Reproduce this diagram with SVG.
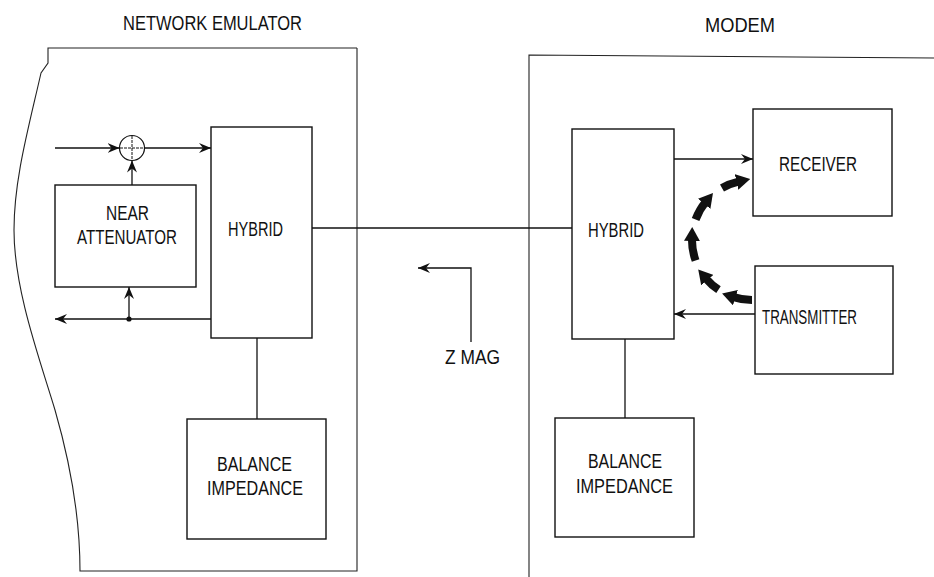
<svg xmlns="http://www.w3.org/2000/svg" width="934" height="577" viewBox="0 0 934 577">
<style>
.box{fill:#fff;stroke:#111;stroke-width:1.4}
.frame{fill:none;stroke:#222;stroke-width:1.1}
.ln{fill:none;stroke:#111;stroke-width:1.3}
.fat{fill:none;stroke:#111;stroke-width:8}
.t{font-family:"Liberation Sans",Arial,sans-serif;font-size:20.5px;fill:#111;text-anchor:middle}
</style>
<defs>
<marker id="ah" viewBox="0 0 12 10" refX="12" refY="5" markerWidth="12" markerHeight="10" markerUnits="userSpaceOnUse" orient="auto">
<path d="M0,0 L12,5 L0,10 L4,5 Z" fill="#111"/>
</marker>
<marker id="fh" viewBox="0 0 14 16" refX="2" refY="8" markerWidth="14" markerHeight="16" markerUnits="userSpaceOnUse" orient="auto">
<path d="M0,0 L14,8 L0,16 Z" fill="#111"/>
</marker>
</defs>
<g id="titles">
<text class="t" x="212.5" y="30" textLength="179" lengthAdjust="spacingAndGlyphs">NETWORK  EMULATOR</text>
<text class="t" x="740" y="32" textLength="70" lengthAdjust="spacingAndGlyphs">MODEM</text>
</g>
<g id="frames">
<path class="frame" d="M357,48 L48,48 L48,63 L41,73 C28,130 14,180 14,230 C14,290 40,360 55,410 C68,455 80,510 80,571 L357,571 L357,48"/>
<path class="frame" d="M529,577 L529,55 L934,58"/>
</g>
<g id="connectors">
<line class="ln" x1="55" y1="148" x2="119.5" y2="148" marker-end="url(#ah)"/>
<line class="ln" x1="144.5" y1="148" x2="211" y2="148" marker-end="url(#ah)"/>
<line class="ln" x1="132" y1="185" x2="132" y2="160.5" marker-end="url(#ah)"/>
<line class="ln" x1="211" y1="319" x2="55" y2="319" marker-end="url(#ah)"/>
<line class="ln" x1="129" y1="319" x2="129" y2="287" marker-end="url(#ah)"/>
<circle cx="129" cy="319" r="2.6" fill="#111"/>
<line class="ln" x1="312" y1="228" x2="572" y2="228"/>
<line class="ln" x1="257" y1="338" x2="257" y2="419"/>
<line class="ln" x1="625" y1="339" x2="625" y2="418"/>
<line class="ln" x1="674" y1="159" x2="753" y2="159" marker-end="url(#ah)"/>
<line class="ln" x1="755" y1="314" x2="674" y2="314" marker-end="url(#ah)"/>
<path class="ln" d="M471,342 L471,268 L418,268" marker-end="url(#ah)"/>
<text class="t" x="472.5" y="364" textLength="55" lengthAdjust="spacingAndGlyphs">Z MAG</text>
<path class="fat" d="M752,300 A60,60 0 0 1 733.5,297.1" marker-end="url(#fh)"/>
<path class="fat" d="M718.5,289.7 A60,60 0 0 1 706,278.6" marker-end="url(#fh)"/>
<path class="fat" d="M695.6,260.5 A60,60 0 0 1 692,239" marker-end="url(#fh)"/>
<path class="fat" d="M695.6,219.5 A60,60 0 0 1 705.4,202.3" marker-end="url(#fh)"/>
<path class="fat" d="M722,188 A60,60 0 0 1 738.5,181.6" marker-end="url(#fh)"/>
</g>
<g id="summer">
<circle cx="132" cy="148" r="12.5" fill="#fff" stroke="#111" stroke-width="1.2"/>
<line x1="132" y1="136" x2="132" y2="160" stroke="#111" stroke-width="1" stroke-dasharray="3,1"/>
<line x1="120" y1="148" x2="144" y2="148" stroke="#111" stroke-width="1" stroke-dasharray="3,1"/>
</g>
<g id="near-attenuator">
<rect class="box" x="55" y="185" width="141" height="102"/>
<text class="t" x="127.5" y="220" textLength="43" lengthAdjust="spacingAndGlyphs">NEAR</text>
<text class="t" x="127" y="244" textLength="100" lengthAdjust="spacingAndGlyphs">ATTENUATOR</text>
</g>
<g id="ne-hybrid">
<rect class="box" x="211" y="127" width="101" height="211"/>
<text class="t" x="255.5" y="235.5" textLength="55" lengthAdjust="spacingAndGlyphs">HYBRID</text>
</g>
<g id="ne-balance">
<rect class="box" x="187" y="419" width="139" height="120"/>
<text class="t" x="254.5" y="470.5" textLength="75" lengthAdjust="spacingAndGlyphs">BALANCE</text>
<text class="t" x="255" y="494.5" textLength="96" lengthAdjust="spacingAndGlyphs">IMPEDANCE</text>
</g>
<g id="modem-hybrid">
<rect class="box" x="572" y="129" width="102" height="210"/>
<text class="t" x="616" y="237" textLength="56" lengthAdjust="spacingAndGlyphs">HYBRID</text>
</g>
<g id="receiver">
<rect class="box" x="753" y="109" width="139" height="107"/>
<text class="t" x="818" y="171" textLength="78" lengthAdjust="spacingAndGlyphs">RECEIVER</text>
</g>
<g id="transmitter">
<rect class="box" x="755" y="266" width="138" height="108"/>
<text class="t" x="809.5" y="324" textLength="95" lengthAdjust="spacingAndGlyphs">TRANSMITTER</text>
</g>
<g id="modem-balance">
<rect class="box" x="555" y="418" width="139" height="119"/>
<text class="t" x="625" y="468" textLength="74" lengthAdjust="spacingAndGlyphs">BALANCE</text>
<text class="t" x="624.5" y="492.5" textLength="97" lengthAdjust="spacingAndGlyphs">IMPEDANCE</text>
</g>
</svg>
